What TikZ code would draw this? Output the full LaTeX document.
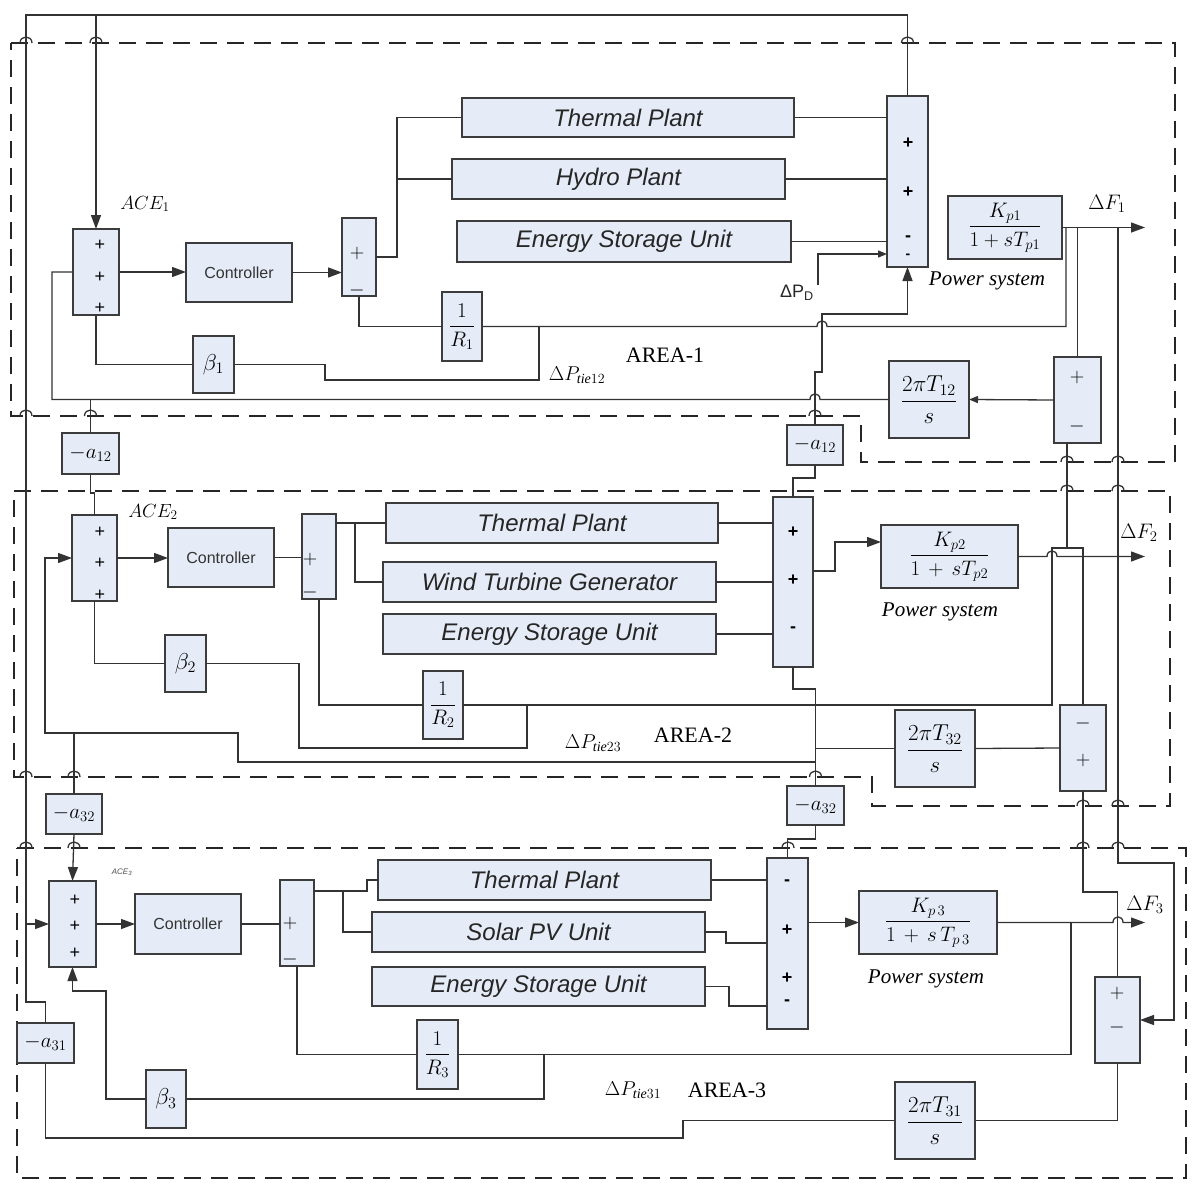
\RequirePackage{fix-cm}
\documentclass[tikz,border=0pt]{standalone}
\usepackage{fontspec}
\setmainfont{Liberation Serif}
\setsansfont{Liberation Sans}
\usetikzlibrary{arrows.meta}
\definecolor{bfill}{HTML}{E6ECF7}
\definecolor{bline}{HTML}{3C3C3C}
\definecolor{wirec}{HTML}{333333}
\tikzset{
 blk/.style={draw=bline, fill=bfill, line width=1.5pt, inner sep=0pt, outer sep=0pt},
 wire/.style={draw=wirec, line width=1.3pt},
 arr/.style={wire, -{Triangle[length=14pt,width=10pt]}},
 sarr/.style={wire, -{Triangle[length=9pt,width=7pt]}},
 area/.style={draw=black!85, line width=2pt, dash pattern=on 17pt off 10pt},
 plant/.style={font=\fontsize{24}{28}\selectfont\sffamily\itshape, text=black!85},
 ctrl/.style={font=\fontsize{16}{19}\selectfont\sffamily, text=black!80},
 mth/.style={font=\fontsize{21}{25}\selectfont},
 kmth/.style={font=\fontsize{21}{22}\selectfont},
 tmth/.style={font=\fontsize{23}{26}\selectfont},
 gmth/.style={font=\fontsize{23}{26}\selectfont},
 sg/.style={font=\fontsize{18}{18}\selectfont\sffamily, inner sep=0pt},
 msg/.style={font=\fontsize{20}{20}\selectfont, inner sep=0pt},
 bsg/.style={font=\fontsize{18}{18}\selectfont\sffamily\bfseries, inner sep=0pt},
 ssg/.style={font=\fontsize{14}{14}\selectfont\sffamily\bfseries, inner sep=0pt},
 lbl/.style={inner sep=0pt},
}
\newcommand\mkblk[7][]{\node[blk,minimum width={(#5-#3)*1pt},minimum height={(#6-#4)*1pt},#1] (#2) at ({(#3+#5)/2},{(#4+#6)/2}) {#7};}
\newcommand\sgn[4][sg]{\node[#1] (#2) at (#3) {#4};}
\newcommand\dhop[2]{\draw[wire] ({#1-6},#2) .. controls ({#1-6},{#2-8}) and ({#1+6},{#2-8}) .. ({#1+6},#2);}
\newcommand\kfr[2]{$\displaystyle\frac{\strut #1}{\strut #2}$}
\begin{document}
\begin{tikzpicture}[x=1pt,y=-1pt]
\useasboundingbox (0,0) rectangle (1200,1196);
% ---------- area boxes
\draw[area] (11,43) -- (1175,43) -- (1175,462) -- (861,462) -- (861,416) -- (11,416) -- cycle;
\draw[area] (14,491) -- (1170,491) -- (1170,806) -- (872,806) -- (872,777) -- (14,777) -- cycle;
\draw[area] (17,848) -- (1186,848) -- (1186,1178) -- (17,1178) -- cycle;
% ---------- AREA 1 blocks
\mkblk{s1}{73}{229}{119}{315}{}
\mkblk[ctrl]{c1}{186}{243}{292}{302}{Controller}
\mkblk{d1}{342}{218}{376}{296}{}
\mkblk[plant]{tp1}{462}{98}{794}{137}{Thermal Plant}
\mkblk[plant]{hp1}{452}{159}{785}{199}{Hydro Plant}
\mkblk[plant]{es1}{457}{221}{791}{262}{Energy Storage Unit}
\mkblk{p1}{887}{96}{928}{267}{}
\mkblk[kmth]{k1}{948}{196}{1062}{259}{\kfr{K_{p1}}{1+sT_{p1}}}
\mkblk[mth]{r1}{442}{292}{482}{361}{$\displaystyle\frac{1}{R_1}$}
\mkblk[gmth]{b1}{193}{336}{234}{393}{$\beta_1$}
\mkblk[tmth]{t12}{889}{361}{969}{438}{$\displaystyle\frac{2\pi T_{12}}{s}$}
\mkblk{f1}{1054}{357}{1101}{443}{}
\mkblk[mth]{a12L}{62}{433}{119}{474}{$-a_{12}$}
\mkblk[mth]{a12R}{787}{425}{843}{465}{$-a_{12}$}
% ---------- AREA 2 blocks
\mkblk{s2}{72}{515}{117}{601}{}
\mkblk[ctrl]{c2}{168}{528}{274}{587}{Controller}
\mkblk{d2}{302}{514}{336}{599}{}
\mkblk[plant]{tp2}{386}{503}{718}{543}{Thermal Plant}
\mkblk[plant]{wt2}{383}{562}{716}{602}{Wind Turbine Generator}
\mkblk[plant]{es2}{383}{614}{716}{654}{Energy Storage Unit}
\mkblk{p2}{773}{497}{813}{667}{}
\mkblk[kmth]{k2}{881}{525}{1018}{588}{\kfr{K_{p2}}{1\,+\,sT_{p2}}}
\mkblk[mth]{r2}{423}{671}{463}{739}{$\displaystyle\frac{1}{R_2}$}
\mkblk[gmth]{b2}{165}{635}{206}{692}{$\beta_2$}
\mkblk[tmth]{t32}{895}{710}{975}{787}{$\displaystyle\frac{2\pi T_{32}}{s}$}
\mkblk{f2}{1060}{705}{1106}{791}{}
\mkblk[mth]{a32L}{46}{794}{102}{834}{$-a_{32}$}
\mkblk[mth]{a32R}{787}{786}{844}{825}{$-a_{32}$}
% ---------- AREA 3 blocks
\mkblk{s3}{49}{881}{96}{967}{}
\mkblk[ctrl]{c3}{135}{894}{241}{954}{Controller}
\mkblk{d3}{280}{880}{314}{966}{}
\mkblk[plant]{tp3}{378}{860}{711}{900}{Thermal Plant}
\mkblk[plant]{pv3}{372}{912}{705}{952}{Solar PV Unit}
\mkblk[plant]{es3}{372}{967}{705}{1006}{Energy Storage Unit}
\mkblk{p3}{767}{858}{808}{1029}{}
\mkblk[kmth]{k3}{859}{891}{997}{954}{\kfr{K_{p\,3}}{1\,+\,s\,T_{p\,3}}}
\mkblk[mth]{r3}{417}{1020}{458}{1089}{$\displaystyle\frac{1}{R_3}$}
\mkblk[gmth]{b3}{146}{1070}{186}{1128}{$\beta_3$}
\mkblk[tmth]{t31}{895}{1082}{975}{1159}{$\displaystyle\frac{2\pi T_{31}}{s}$}
\mkblk{f3}{1095}{977}{1140}{1063}{}
\mkblk[mth]{a31}{17}{1023}{74}{1063}{$-a_{31}$}
% ---------- signs
\sgn{sa1}{100,245}{+}\sgn{sa2}{100,277}{+}\sgn{sa3}{100,308}{+}
\sgn[msg]{da1}{357,254}{$+$}\sgn[msg]{da2}{357,290}{$-$}
\sgn[bsg]{pa1}{908,143}{+}\sgn[bsg]{pa2}{908,192}{+}\sgn[bsg]{pa3}{908,239}{-}\sgn[ssg]{pa4}{908,256}{-}
\sgn[msg]{fa1}{1077,377}{$+$}\sgn[msg]{fa2}{1077,426}{$-$}
\sgn{sb1}{100,532}{+}\sgn{sb2}{100,563}{+}\sgn{sb3}{100,595}{+}
\sgn[msg]{db1}{310,559}{$+$}\sgn[msg]{db2}{310,592}{$-$}
\sgn[bsg]{pb1}{793,532}{+}\sgn[bsg]{pb2}{793,580}{+}\sgn[bsg]{pb3}{793,630}{-}
\sgn[msg]{fb1}{1083,723}{$-$}\sgn[msg]{fb2}{1083,760}{$+$}
\sgn{sc1}{75,900}{+}\sgn{sc2}{75,926}{+}\sgn{sc3}{75,953}{+}
\sgn[msg]{dc1}{290,923}{$+$}\sgn[msg]{dc2}{290,959}{$-$}
\sgn[bsg]{pc1}{787,883}{-}\sgn[bsg]{pc2}{787,930}{+}\sgn[bsg]{pc3}{787,978}{+}\sgn[bsg]{pc4}{787,1003}{-}
\sgn[msg]{fc1}{1117,993}{$+$}\sgn[msg]{fc2}{1117,1027}{$-$}
% ---------- labels
\node[lbl,font=\fontsize{19}{21}\selectfont] (ace1) at (145,204) {$ACE_1$};
\node[lbl,font=\fontsize{19}{21}\selectfont] (ace2) at (153,512) {$ACE_2$};
\node[lbl,font=\fontsize{8}{9}\selectfont\sffamily\itshape,text=black!70] (ace3) at (122,872) {ACE\textsubscript{3}};
\node[lbl,font=\fontsize{18}{20}\selectfont\sffamily,text=black!85] (pdl) at (797,293) {ΔP\textsubscript{D}};
\node[lbl,font=\fontsize{21}{24}\selectfont\itshape] (ps1) at (987,281) {Power system};
\node[lbl,font=\fontsize{21}{24}\selectfont\itshape] (ps2) at (940,612) {Power system};
\node[lbl,font=\fontsize{21}{24}\selectfont\itshape] (ps3) at (926,979) {Power system};
\node[lbl,font=\fontsize{21}{23}\selectfont] (df1) at (1107,204) {$\Delta F_1$};
\node[lbl,font=\fontsize{21}{23}\selectfont] (df2) at (1139,533) {$\Delta F_2$};
\node[lbl,font=\fontsize{21}{23}\selectfont] (df3) at (1145,905) {$\Delta F_3$};
\node[lbl,font=\fontsize{22}{24}\selectfont] (ar1) at (665,355) {AREA-1};
\node[lbl,font=\fontsize{22}{24}\selectfont] (ar2) at (693,735) {AREA-2};
\node[lbl,font=\fontsize{22}{24}\selectfont] (ar3) at (727,1090) {AREA-3};
\node[lbl,font=\fontsize{20}{22}\selectfont] (pt12) at (577,375) {$\Delta P_{\mathit{tie}12}$};
\node[lbl,font=\fontsize{20}{22}\selectfont] (pt23) at (593,743) {$\Delta P_{\mathit{tie}23}$};
\node[lbl,font=\fontsize{20}{22}\selectfont] (pt31) at (633,1090) {$\Delta P_{\mathit{tie}31}$};
% ---------- AREA 1 wiring
\draw[wire] (p1.north) -- (907.5,15) -- (26,15) -- (26,1002) -| (a31.north);
\draw[arr] (96,15) -- (s1.north);
\draw[arr] (s1.east) -- (s1.east -| c1.west);
\draw[arr] (c1.east) -- (c1.east -| d1.west);
\coordinate (j1) at (397,257);
\draw[wire] (d1.east |- j1) -- (j1) |- (tp1.west);
\draw[wire] (j1 |- hp1.west) -- (hp1.west);
\draw[wire] (tp1.east) -- (tp1.east -| p1.west);
\draw[wire] (hp1.east) -- (hp1.east -| p1.west);
\draw[wire] (es1.east) -- (es1.east -| p1.west);
\coordinate (pdA) at (818,285);
\coordinate (pdB) at (887,254);
\draw[sarr] (pdA) |- (pdB);
\draw[arr] (a12R.north) -- (815,372) -- (822,372) -- (822,314) -| (p1.south);
\draw[wire] (d1.south) |- (r1.west);
\draw[wire] (r1.east) -- (817,326.5) .. controls (817,319) and (827,319) .. (827,326.5) -- (1066,326.5) -- (1066,227.5);
\draw[arr] (k1.east) -- (1145,227.5);
\draw[wire] (539,326.5) -- (539,380) -- (325,380) -- (325,364.5) -- (b1.east);
\draw[wire] (b1.west) -| (s1.south);
\draw[wire] (t12.west) -- (820,399.5) .. controls (820,392) and (810,392) .. (810,399.5) -- (52,399.5) |- (s1.west);
\draw[wire] (a12L.north) -- (a12L.north |- t12.west);
\draw[wire] (a12L.south) -- ++(0,19) -| (s2.north);
\draw[wire] (f1.north |- k1.east) -- (f1.north);
\draw[sarr] (f1.west) -- (t12.east);
\draw[wire] (1067,443) -- (1067,548);
\draw[arr] (1118,227.5) -- (1118,863) -- (1174,863) |- (f3.east);
\draw[wire] (a12R.south) -- ++(0,13) -| (p2.north);
% ---------- AREA 2 wiring
\draw[arr] (s2.east) -- (s2.east -| c2.west);
\draw[wire] (c2.east) -- (c2.east -| d2.west);
\coordinate (j2) at (355,523);
\draw[wire] (d2.east |- tp2.west) -- (tp2.west);
\draw[wire] (j2) |- (wt2.west);
\draw[wire] (tp2.east) -- (tp2.east -| p2.west);
\draw[wire] (wt2.east) -- (wt2.east -| p2.west);
\draw[wire] (es2.east) -- (es2.east -| p2.west);
\draw[arr] (813,571) -- (835,571) |- (881,542);
\draw[arr] (k2.east) -- (1047,556.5) .. controls (1047,549) and (1057,549) .. (1057,556.5) -- (1145,556.5);
\draw[wire] (d2.south) |- (r2.west);
\draw[wire] (r2.east) -- (1052,705) -- (1052,548) -- (1083,548) -- (f2.north);
\draw[wire] (s2.south) |- (b2.west);
\draw[wire] (b2.east) -- (299,663.5) -- (299,748) -- (527,748) -- (527,705);
\draw[wire] (p2.south) -- (793,689) -| (a32R.north);
\draw[wire] (t32.west) -- (815.5,748.5);
\draw[arr] (815.5,762) -- (238,762) -- (238,733) -- (45,733) |- (s2.west);
\draw[wire] (74,733) -- (a32L.north);
\draw[wire] (t32.east) -- (f2.west);
\draw[wire] (f2.south) -- (1083,892) -| (f3.north);
\draw[arr] (a32L.south) -- (s3.north);
\draw[wire] (a32R.south) -- (815.5,839) -| (p3.north);
% ---------- AREA 3 wiring
\draw[arr] (26,924) -- (s3.west);
\draw[arr] (s3.east) -- (s3.east -| c3.west);
\draw[wire] (c3.east) -- (c3.east -| d3.west);
\draw[wire] (314,891) -- (367,891) |- (tp3.west);
\draw[wire] (343,891) |- (pv3.west);
\draw[wire] (tp3.east) -- (tp3.east -| p3.west);
\draw[wire] (pv3.east) -- (726,932) -- (726,943) -- (767,943);
\draw[wire] (es3.east) -- (729,986.5) -- (729,1006) -- (767,1006);
\draw[arr] (k3.west -| p3.east) -- (k3.west);
\draw[arr] (k3.east) -- (1113,922.5) .. controls (1113,915) and (1123,915) .. (1123,922.5) -- (1145,922.5);
\draw[wire] (1071,922.5) -- (1071,1054.5) -- (r3.east);
\draw[wire] (r3.west) -| (d3.south);
\draw[wire] (544,1054.5) -- (544,1099) -- (b3.east);
\draw[arr] (b3.west) -- (106,1099) -- (106,991) -| (s3.south);
\draw[wire] (a31.south) -- (45.5,1138) -- (683,1138) -- (683,1120.5) -- (t31.west);
\draw[wire] (t31.east) -| (f3.south);
% ---------- hops on area borders
\dhop{26}{43}\dhop{96}{43}\dhop{907.5}{43}
\dhop{26}{416}\dhop{90.5}{416}\dhop{815}{416}
\dhop{1067}{462}\dhop{1118}{462}
\dhop{1067}{491}\dhop{1118}{491}
\dhop{26}{777}\dhop{74}{777}\dhop{815.5}{777}
\dhop{1083}{806}\dhop{1118}{806}
\dhop{26}{848}\dhop{74}{848}\dhop{788}{848}\dhop{1083}{848}\dhop{1118}{848}
\end{tikzpicture}
\end{document}
